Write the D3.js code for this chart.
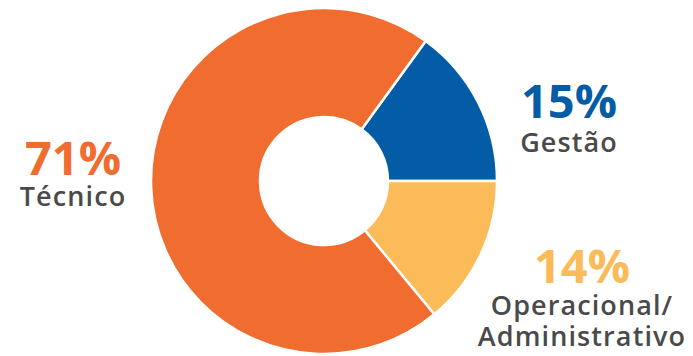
<!DOCTYPE html>
<html>
<head>
<meta charset="utf-8">
<script src="https://cdn.jsdelivr.net/npm/d3@7"></script>
<style>
  body { margin: 0; background: #fff; }
  svg text { font-family: "Open Sans", "Noto Sans", sans-serif; }
</style>
</head>
<body>
<svg width="693" height="356"></svg>
<script>
// data
var categories = ["Gestão", "Operacional/Administrativo", "Técnico"];
var values = [15, 14, 71];
var colors = ["#035ca5", "#fbbb58", "#f06d2f"];

var svg = d3.select("svg"),
    cx = 324,
    cy = 181,
    outerR = 173,
    innerR = 64;

var pie = d3.pie()
    .sort(null)
    .startAngle(36 * Math.PI / 180)
    .endAngle(396 * Math.PI / 180);

var arc = d3.arc()
    .innerRadius(innerR)
    .outerRadius(outerR);

var g = svg.append("g")
    .attr("transform", "translate(" + cx + "," + cy + ")");

g.selectAll("path")
    .data(pie(values))
    .enter().append("path")
    .attr("d", arc)
    .attr("fill", function(d, i) { return colors[i]; })
    .attr("stroke", "#fff")
    .attr("stroke-width", 2.5);

// label layout (x center, baseline of percentage, line baselines)
var labelLayout = [
    {x: 569, y: 118, lines: ["Gestão"], ly: [152]},
    {x: 582, y: 283, lines: ["Operacional/", "Administrativo"], ly: [315, 346]},
    {x: 73, y: 175, lines: ["Técnico"], ly: [206]}
];

var labels = svg.selectAll("g.label")
    .data(values)
    .enter().append("g")
    .attr("class", "label");

labels.append("text")
    .attr("x", function(d, i) { return labelLayout[i].x; })
    .attr("y", function(d, i) { return labelLayout[i].y; })
    .attr("text-anchor", "middle")
    .attr("font-size", 47)
    .attr("font-weight", 700)
    .attr("fill", function(d, i) { return colors[i]; })
    .text(function(d) { return d + "%"; });

labels.each(function(d, i) {
    var lay = labelLayout[i];
    d3.select(this).selectAll("text.cat")
        .data(lay.lines)
        .enter().append("text")
        .attr("class", "cat")
        .attr("x", lay.x)
        .attr("y", function(t, j) { return lay.ly[j]; })
        .attr("text-anchor", "middle")
        .attr("font-size", 27)
        .attr("letter-spacing", 1.1)
        .attr("font-weight", 600)
        .attr("fill", "#4a4a4a")
        .text(function(t) { return t; });
});
</script>
</body>
</html>
